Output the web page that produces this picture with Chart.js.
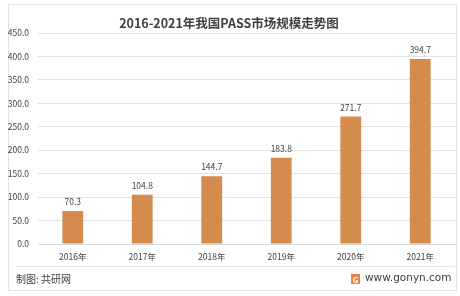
<!DOCTYPE html>
<html>
<head>
<meta charset="utf-8">
<script src="https://cdn.jsdelivr.net/npm/chart.js@4"></script>
<style>
  html, body { margin: 0; padding: 0; background: #ffffff; }
  #wrap { width: 460px; height: 296px; position: relative; }
</style>
</head>
<body>
<div id="wrap"><canvas id="marketChart" width="460" height="296"></canvas></div>
<script>
// DATA

const years = ['2016年', '2017年', '2018年', '2019年', '2020年', '2021年'];
const marketSize = [70.3, 104.8, 144.7, 183.8, 271.7, 394.7];
const yTicks = [0, 50, 100, 150, 200, 250, 300, 350, 400, 450];

const titleText = '2016-2021年我国PASS市场规模走势图';
const sourceText = '制图: 共研网';
const siteText = 'www.gonyn.com';

const textColor = '#404040';
const barColor = '#D48C4E';
const cjkFont = '"Noto Sans CJK SC", "Noto Sans", sans-serif';

// FRAME, TITLE, FOOTER AND VALUE LABELS

const decorPlugin = {
    id: 'decor',
    beforeDraw(chart) {
        const ctx = chart.ctx;
        ctx.save();
        ctx.fillStyle = '#ffffff';
        ctx.fillRect(0, 0, chart.width, chart.height);
        ctx.strokeStyle = '#e3e3e3';
        ctx.lineWidth = 1;
        ctx.strokeRect(8.5, 4.5, 448, 286);
        ctx.restore();
    },
    afterDraw(chart) {
        const ctx = chart.ctx;
        ctx.save();

        ctx.fillStyle = textColor;
        ctx.font = 'bold 12.5px ' + cjkFont;
        ctx.textAlign = 'center';
        ctx.textBaseline = 'middle';
        ctx.fillText(titleText, 229, 23);

        // value labels
        const meta = chart.getDatasetMeta(0);
        ctx.font = '8.5px ' + cjkFont;
        meta.data.forEach((bar, i) => {
            ctx.fillText(marketSize[i].toFixed(1), bar.x, bar.y - 9);
        });

        // separator
        ctx.strokeStyle = '#e6e6e6';
        ctx.beginPath();
        ctx.moveTo(15, 266.5);
        ctx.lineTo(455, 266.5);
        ctx.stroke();

        // footer
        ctx.textAlign = 'left';
        ctx.font = '10px ' + cjkFont;
        ctx.fillText(sourceText, 16, 279);

        ctx.fillStyle = '#F0843C';
        ctx.fillRect(351, 274, 9, 10);
        ctx.fillStyle = '#ffffff';
        ctx.font = 'bold 8px ' + cjkFont;
        ctx.textAlign = 'center';
        ctx.fillText('G', 355.5, 279.5);

        ctx.fillStyle = textColor;
        ctx.textAlign = 'left';
        ctx.font = '10.5px "DejaVu Sans", sans-serif';
        ctx.fillText(siteText, 365, 278);

        ctx.restore();
    }
};

window.onload = function () {

    const ctx = document.getElementById('marketChart').getContext('2d');

    new Chart(ctx, {
        type: 'bar',
        data: {
            labels: years,
            datasets: [{
                data: marketSize,
                backgroundColor: barColor,
                barPercentage: 0.3,
                categoryPercentage: 1
            }]
        },
        options: {
            responsive: false,
            animation: false,
            layout: {
                padding: { top: 33, right: 5, bottom: 30, left: 0 }
            },
            plugins: {
                legend: { display: false },
                tooltip: { enabled: false }
            },
            scales: {
                x: {
                    grid: { display: false, drawTicks: false },
                    border: { color: '#d9d9d9' },
                    ticks: {
                        color: textColor,
                        font: { size: 8.5, family: cjkFont },
                        padding: 8,
                        maxRotation: 0
                    },
                    afterFit(scale) { scale.height = 22; }
                },
                y: {
                    min: 0,
                    max: yTicks[yTicks.length - 1],
                    afterBuildTicks(scale) {
                        scale.ticks = yTicks.map(v => ({ value: v }));
                    },
                    grid: { color: '#e1e1e1', drawTicks: false },
                    border: { display: false },
                    ticks: {
                        color: textColor,
                        font: { size: 8.5, family: cjkFont },
                        padding: 9,
                        callback: v => Number(v).toFixed(1)
                    },
                    afterFit(scale) { scale.width = 38; }
                }
            }
        },
        plugins: [decorPlugin]
    });
};
</script>
</body>
</html>
